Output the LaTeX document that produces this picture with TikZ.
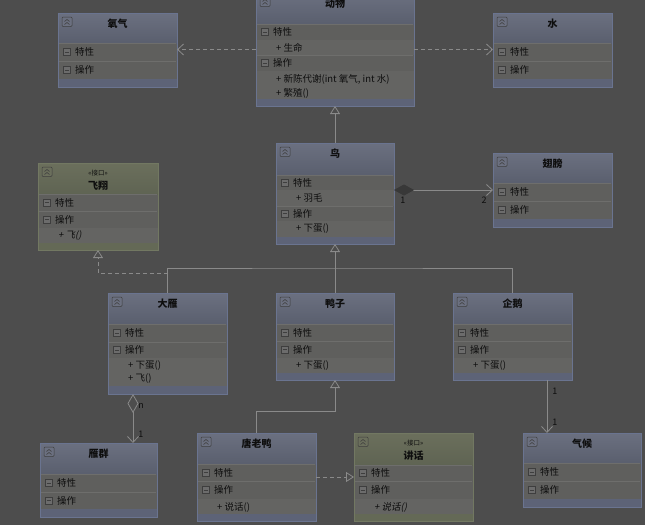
\documentclass[tikz,border=0pt]{standalone}
\usepackage{fontspec}
\setmainfont{Noto Sans CJK SC}
\newfontfamily\cjkit[FakeSlant=0.2]{Noto Sans CJK SC}
\usetikzlibrary{arrows.meta}

\definecolor{bg}{HTML}{4D4D4D}
\definecolor{bodyc}{HTML}{5F5F5D}
\definecolor{memc}{HTML}{646462}
\definecolor{sepc}{HTML}{6E6E6C}
\definecolor{clsTop}{HTML}{6B7080}
\definecolor{clsBot}{HTML}{5A5F6E}
\definecolor{clsBorder}{HTML}{6A7490}
\definecolor{clsBand}{HTML}{5D6377}
\definecolor{ifTop}{HTML}{6B6F5C}
\definecolor{ifBot}{HTML}{5F6453}
\definecolor{ifBorder}{HTML}{727862}
\definecolor{ifBand}{HTML}{646956}
\definecolor{iconc}{HTML}{3E3E3E}
\definecolor{iconf}{HTML}{6C6C6C}
\definecolor{linec}{HTML}{8A8A8A}
\definecolor{txt}{HTML}{0E0E0E}
\definecolor{diamc}{HTML}{383838}

\tikzset{
  titlef/.style={font=\bfseries\fontsize{10}{11}\selectfont, text=txt, inner sep=0pt},
  stereof/.style={font=\fontsize{6.5}{7}\selectfont, text=txt, inner sep=0pt},
  memf/.style={font=\fontsize{9.5}{11}\selectfont, text=txt, inner sep=0pt, anchor=west},
  memit/.style={font=\cjkit\fontsize{9.5}{11}\selectfont, text=txt, inner sep=0pt, anchor=west},
  lbl/.style={font=\fontsize{9}{10}\selectfont, text=txt, inner sep=0pt},
  conn/.style={draw=linec, line width=0.9pt},
  dashline/.style={conn, dash pattern=on 4pt off 3pt},
  openhead/.style={-{Straight Barb[length=6pt,width=11pt,line width=0.8pt]}},
  trihead/.style={-{Triangle[open,length=8pt,width=10pt,line width=0.8pt]}},
}

% frame of a class box: name, x1, y1, x2, y2, header end, band start, kind
\newcommand\umlbox[8]{%
  \fill[bodyc] (#2,#6) rectangle (#4,#7);
  \shade[top color=#8Top, bottom color=#8Bot] (#2,#3) rectangle (#4,#6);
  \fill[#8Band] (#2,#7) rectangle (#4,#5);
  \node[draw=#8Border, line width=0.9pt, inner sep=0pt, outer sep=0pt,
        minimum width={(#4-#2)*1pt}, minimum height={(#5-#3)*1pt},
        anchor=north west] (#1) at (#2,#3) {};
  \draw[iconc, fill=#8Top, rounded corners=1pt, line width=0.5pt]
        (#2+4,#3+4) rectangle (#2+14,#3+13.5);
  \draw[iconc, line width=0.6pt] (#2+6.5,#3+8.5) -- (#2+9,#3+6.5) -- (#2+11.5,#3+8.5);
  \draw[iconc, line width=0.6pt] (#2+6.5,#3+11.5) -- (#2+9,#3+9.5) -- (#2+11.5,#3+11.5);
}
% section row: name, x1, x2, ytop, ybot, text
\newcommand\secrow[6]{%
  \draw[sepc, line width=0.6pt] (#2+1,#4) -- (#3-1,#4);
  \draw[iconc, fill=iconf, line width=0.5pt]
        (#2+5,{(#4+#5)/2-3.5}) rectangle (#2+12,{(#4+#5)/2+3.5});
  \draw[iconc, line width=0.6pt] (#2+6.5,{(#4+#5)/2}) -- (#2+10.5,{(#4+#5)/2});
  \node[memf] (#1) at (#2+17,{(#4+#5)/2}) {#6};
}
% member area fill: x1, x2, ytop, ybot
\newcommand\memarea[4]{\fill[memc] (#1+0.5,#3) rectangle (#2-0.5,#4);}

\begin{document}
\begin{tikzpicture}[x=1pt,y=-1pt]
\useasboundingbox (0,0) rectangle (645,525);
\fill[bg] (0,0) rectangle (645,525);

% ---------- 氧气 ----------
\umlbox{oxy}{58}{13}{177}{87}{43}{79}{cls}
\node[titlef] (oxy-t) at (117.5,24) {氧气};
\secrow{oxy-a}{58}{177}{43}{61}{特性}
\secrow{oxy-o}{58}{177}{61}{79}{操作}

% ---------- 水 ----------
\umlbox{water}{493}{13}{612}{87}{43}{79}{cls}
\node[titlef] (water-t) at (552.5,24) {水};
\secrow{water-a}{493}{612}{43}{61}{特性}
\secrow{water-o}{493}{612}{61}{79}{操作}

% ---------- 动物 ----------
\umlbox{animal}{256}{-7}{414}{106}{24}{99}{cls}
\memarea{256}{414}{40}{55}
\memarea{256}{414}{71}{99}
\node[titlef] (animal-t) at (335,4) {动物};
\secrow{animal-a}{256}{414}{24}{40}{特性}
\node[memf] (animal-m1) at (276,48) {+ 生命};
\secrow{animal-o}{256}{414}{55}{71}{操作}
\node[memf] (animal-m2) at (276,79) {+ 新陈代谢(int 氧气, int 水)};
\node[memf] (animal-m3) at (276,93) {+ 繁殖()};

% ---------- 鸟 ----------
\umlbox{bird}{276}{143}{394}{244}{175}{237}{cls}
\memarea{276}{394}{190}{206}
\memarea{276}{394}{221}{237}
\node[titlef] (bird-t) at (335,154) {鸟};
\secrow{bird-a}{276}{394}{175}{190}{特性}
\node[memf] (bird-m1) at (296,198) {+ 羽毛};
\secrow{bird-o}{276}{394}{206}{221}{操作}
\node[memf] (bird-m2) at (296,229) {+ 下蛋()};

% ---------- 翅膀 ----------
\umlbox{wing}{493}{153}{612}{227}{183}{219}{cls}
\node[titlef] (wing-t) at (552.5,164) {翅膀};
\secrow{wing-a}{493}{612}{183}{201}{特性}
\secrow{wing-o}{493}{612}{201}{219}{操作}

% ---------- 飞翔 (接口) ----------
\umlbox{fly}{38}{163}{158}{250}{194}{243}{if}
\memarea{38}{158}{228}{243}
\node[stereof] (fly-s) at (98,173) {«接口»};
\node[titlef] (fly-t) at (98,186) {飞翔};
\secrow{fly-a}{38}{158}{194}{211}{特性}
\secrow{fly-o}{38}{158}{211}{228}{操作}
\node[memit] (fly-m1) at (58,236) {+ 飞()};

% ---------- 大雁 ----------
\umlbox{goose}{108}{293}{227}{394}{324}{386}{cls}
\memarea{108}{227}{358}{386}
\node[titlef] (goose-t) at (167.5,304) {大雁};
\secrow{goose-a}{108}{227}{324}{342}{特性}
\secrow{goose-o}{108}{227}{342}{358}{操作}
\node[memf] (goose-m1) at (128,366) {+ 下蛋()};
\node[memf] (goose-m2) at (128,379) {+ 飞()};

% ---------- 鸭子 ----------
\umlbox{duck}{276}{293}{394}{380}{324}{373}{cls}
\memarea{276}{394}{358}{373}
\node[titlef] (duck-t) at (335,304) {鸭子};
\secrow{duck-a}{276}{394}{324}{341}{特性}
\secrow{duck-o}{276}{394}{341}{358}{操作}
\node[memf] (duck-m1) at (296,366) {+ 下蛋()};

% ---------- 企鹅 ----------
\umlbox{penguin}{453}{293}{572}{380}{324}{373}{cls}
\memarea{453}{572}{358}{373}
\node[titlef] (penguin-t) at (512.5,304) {企鹅};
\secrow{penguin-a}{453}{572}{324}{341}{特性}
\secrow{penguin-o}{453}{572}{341}{358}{操作}
\node[memf] (penguin-m1) at (473,366) {+ 下蛋()};

% ---------- 雁群 ----------
\umlbox{flock}{40}{443}{157}{517}{474}{509}{cls}
\node[titlef] (flock-t) at (98.5,454) {雁群};
\secrow{flock-a}{40}{157}{474}{492}{特性}
\secrow{flock-o}{40}{157}{492}{509}{操作}

% ---------- 唐老鸭 ----------
\umlbox{donald}{197}{433}{316}{521}{464}{514}{cls}
\memarea{197}{316}{499}{514}
\node[titlef] (donald-t) at (256.5,444) {唐老鸭};
\secrow{donald-a}{197}{316}{464}{481}{特性}
\secrow{donald-o}{197}{316}{481}{499}{操作}
\node[memf] (donald-m1) at (217,507) {+ 说话()};

% ---------- 讲话 (接口) ----------
\umlbox{speak}{354}{433}{473}{521}{465}{514}{if}
\memarea{354}{473}{499}{514}
\node[stereof] (speak-s) at (413.5,443) {«接口»};
\node[titlef] (speak-t) at (413.5,456) {讲话};
\secrow{speak-a}{354}{473}{465}{481}{特性}
\secrow{speak-o}{354}{473}{481}{499}{操作}
\node[memit] (speak-m1) at (374,507) {+ 说话()};

% ---------- 气候 ----------
\umlbox{climate}{523}{433}{641}{507}{463}{499}{cls}
\node[titlef] (climate-t) at (582,444) {气候};
\secrow{climate-a}{523}{641}{463}{481}{特性}
\secrow{climate-o}{523}{641}{481}{499}{操作}

% ---------- connectors ----------
\coordinate (tj) at (335,268);
\coordinate (gj) at (167.5,273);
\coordinate (dj) at (335,411);
\coordinate (aggx) at (133,0);
\coordinate (climx) at (547,0);

% dependencies of 动物
\draw[dashline, openhead] (animal.west) -- (animal.west -| oxy.east);
\draw[dashline, openhead] (animal.east) -- (animal.east -| water.west);
% 鸟 inherits 动物
\draw[conn, trihead] (bird.north) -- (animal.south);
% composition 鸟 - 翅膀
\draw[conn, {Diamond[length=20pt,width=11pt,color=diamc,fill=diamc,line width=0.6pt]}-{Straight Barb[length=6pt,width=11pt,line width=0.8pt]}]
  (bird.east |- wing.west) -- (wing.west)
  node[lbl, pos=0.09, below=7pt] (c1) {1}
  node[lbl, pos=0.91, below=7pt] (c2) {2};
% inheritance tree to 鸟
\draw[conn] (goose.north) |- (tj) -| (penguin.north);
\draw[conn, trihead] (duck.north) -- (bird.south);
% 大雁 realizes 飞翔
\draw[dashline, trihead] (gj) -| (fly.south);
% aggregation 大雁 - 雁群
\draw[conn, {Diamond[open,length=19pt,width=11pt,line width=0.8pt]}-{Straight Barb[length=6pt,width=11pt,line width=0.8pt]}]
  (goose.south -| aggx) -- (flock.north -| aggx)
  node[lbl, pos=0.25, right=5pt] (gn) {n}
  node[lbl, pos=0.82, right=5pt] (g1) {1};
% 唐老鸭 inherits 鸭子
\draw[conn, trihead] (donald.north) |- (dj) -- (duck.south);
% 唐老鸭 realizes 讲话
\draw[dashline, trihead] (donald.east) -- (speak.west);
% association 企鹅 - 气候
\draw[conn, openhead] (penguin.south -| climx) -- (climate.north -| climx)
  node[lbl, pos=0.22, right=5pt] (p1) {1}
  node[lbl, pos=0.8, right=5pt] (p2) {1};
\end{tikzpicture}
\end{document}
